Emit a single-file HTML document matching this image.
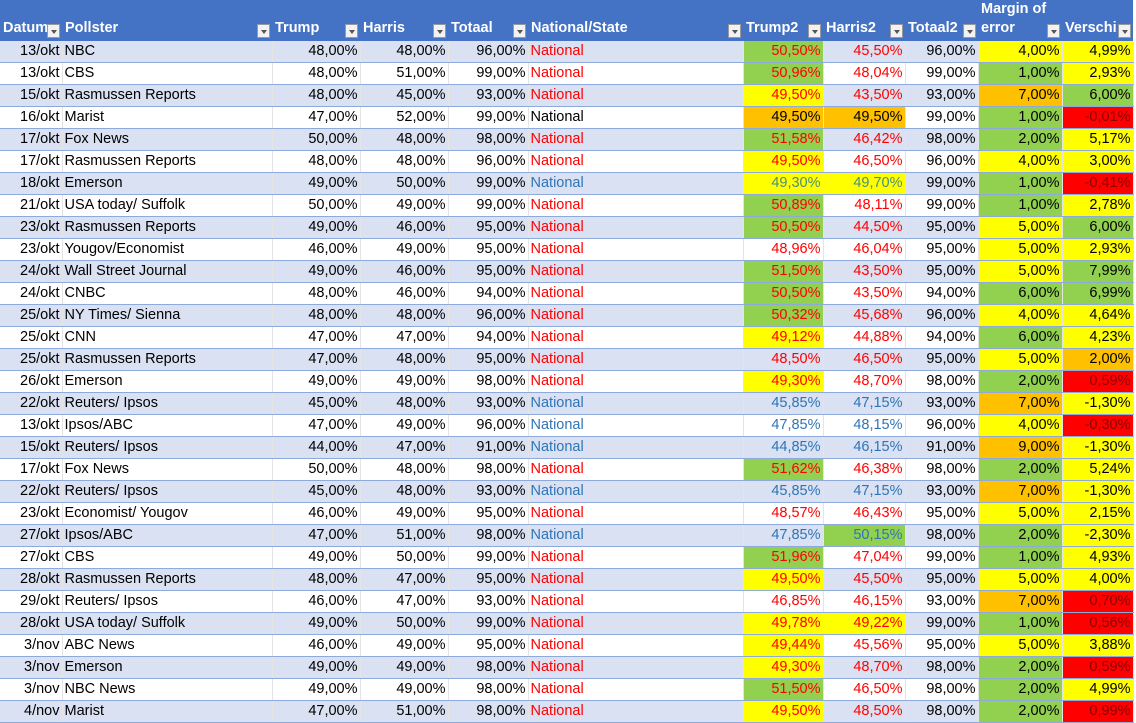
<!DOCTYPE html>
<html><head><meta charset="utf-8">
<style>
body{margin:0;width:1136px;height:723px;overflow:hidden;background:#fff;font-family:"Liberation Sans",Calibri,sans-serif;font-size:14.5px}
table{border-collapse:collapse;table-layout:fixed;position:absolute;left:0;top:0;width:1133px}
th{background:#4472C4;color:#fff;font-weight:bold;text-align:left;height:40px;padding:0 0 0 3px;vertical-align:bottom;position:relative;white-space:nowrap;overflow:hidden}
th span.t{display:block;padding-bottom:3px;line-height:19px}
th .dd{position:absolute;right:2px;bottom:3px;width:13px;height:14px;background:#f2f2f2;border:1px solid #999;box-sizing:border-box}
th .dd:after{content:"";position:absolute;left:3px;top:5px;border-left:3px solid transparent;border-right:3px solid transparent;border-top:4px solid #555}
td{height:21px;padding:0 2px;border-bottom:1px solid #8EA9DB;white-space:nowrap;overflow:hidden;line-height:21px;border-right:1px solid #e4e4e4}
tr.odd td{background:#D9E1F2}
td.n{text-align:right}
.r{color:#FF0000}.b{color:#2E75B6}.k{color:#000}.g{color:#4a8f7a}.dr{color:#8b0000}
td.fg{background:#92D050!important}td.fy{background:#FFFF00!important}td.fo{background:#FFC000!important}td.fr{background:#FF0000!important}
</style></head><body>
<table>
<colgroup><col style="width:62px"><col style="width:210px"><col style="width:88px"><col style="width:88px"><col style="width:80px"><col style="width:215px"><col style="width:80px"><col style="width:82px"><col style="width:73px"><col style="width:84px"><col style="width:71px"></colgroup>
<thead><tr id="hdr"></tr></thead>
<tbody id="body"></tbody>
</table>
<script>
const headers=["Datum","Pollster","Trump","Harris","Totaal","National/State","Trump2","Harris2","Totaal2","Margin of<br>error","Verschi"];
const dates=["13/okt","13/okt","15/okt","16/okt","17/okt","17/okt","18/okt","21/okt","23/okt","23/okt","24/okt","24/okt","25/okt","25/okt","25/okt","26/okt","22/okt","13/okt","15/okt","17/okt","22/okt","23/okt","27/okt","27/okt","28/okt","29/okt","28/okt","3/nov","3/nov","3/nov","4/nov"];
const pollsters=["NBC","CBS","Rasmussen Reports","Marist","Fox News","Rasmussen Reports","Emerson","USA today/ Suffolk","Rasmussen Reports","Yougov/Economist","Wall Street Journal","CNBC","NY Times/ Sienna","CNN","Rasmussen Reports","Emerson","Reuters/ Ipsos","Ipsos/ABC","Reuters/ Ipsos","Fox News","Reuters/ Ipsos","Economist/ Yougov","Ipsos/ABC","CBS","Rasmussen Reports","Reuters/ Ipsos","USA today/ Suffolk","ABC News","Emerson","NBC News","Marist"];
const trump=["48,00","48,00","48,00","47,00","50,00","48,00","49,00","50,00","49,00","46,00","49,00","48,00","48,00","47,00","47,00","49,00","45,00","47,00","44,00","50,00","45,00","46,00","47,00","49,00","48,00","46,00","49,00","46,00","49,00","49,00","47,00"];
const harris=["48,00","51,00","45,00","52,00","48,00","48,00","50,00","49,00","46,00","49,00","46,00","46,00","48,00","47,00","48,00","49,00","48,00","49,00","47,00","48,00","48,00","49,00","51,00","50,00","47,00","47,00","50,00","49,00","49,00","49,00","51,00"];
const totaal=["96,00","99,00","93,00","99,00","98,00","96,00","99,00","99,00","95,00","95,00","95,00","94,00","96,00","94,00","95,00","98,00","93,00","96,00","91,00","98,00","93,00","95,00","98,00","99,00","95,00","93,00","99,00","95,00","98,00","98,00","98,00"];
const colorCls=["r","r","r","k","r","r","b","r","r","r","r","r","r","r","r","r","b","b","b","r","b","r","b","r","r","r","r","r","r","r","r"];
const trump2=["50,50","50,96","49,50","49,50","51,58","49,50","49,30","50,89","50,50","48,96","51,50","50,50","50,32","49,12","48,50","49,30","45,85","47,85","44,85","51,62","45,85","48,57","47,85","51,96","49,50","46,85","49,78","49,44","49,30","51,50","49,50"];
const harris2=["45,50","48,04","43,50","49,50","46,42","46,50","49,70","48,11","44,50","46,04","43,50","43,50","45,68","44,88","46,50","48,70","47,15","48,15","46,15","46,38","47,15","46,43","50,15","47,04","45,50","46,15","49,22","45,56","48,70","46,50","48,50"];
const margin=["4,00","1,00","7,00","1,00","2,00","4,00","1,00","1,00","5,00","5,00","5,00","6,00","4,00","6,00","5,00","2,00","7,00","4,00","9,00","2,00","7,00","5,00","2,00","1,00","5,00","7,00","1,00","5,00","2,00","2,00","2,00"];
const verschil=["4,99","2,93","6,00","-0,01","5,17","3,00","-0,41","2,78","6,00","2,93","7,99","6,99","4,64","4,23","2,00","0,59","-1,30","-0,30","-1,30","5,24","-1,30","2,15","-2,30","4,93","4,00","0,70","0,56","3,88","0,59","4,99","0,99"];
const t2Fill="gggogyygg-ggggy-y---g----gy-yygy".split("").slice(0,31);
const t2F=["g","g","y","o","g","y","y","g","g","","g","g","g","y","","y","","","","g","","","","g","y","","y","y","y","g","y"];
const h2F=["","","","o","","","y","","","","","","","","","","","","","","","","g","","","","y","","","",""];
const mF=["y","g","o","g","g","y","g","g","y","y","y","g","y","g","y","g","o","y","o","g","o","y","g","g","y","o","g","y","g","g","g"];
const vF=["y","y","g","r","y","y","r","y","g","y","g","g","y","y","o","r","y","r","y","y","y","y","y","y","y","r","r","y","r","y","r"];
const hdr=document.getElementById('hdr');
headers.forEach((h,i)=>{const th=document.createElement('th');


th.innerHTML='<span class="t">'+h+'</span>';
const dd=document.createElement('span');dd.className='dd';


th.appendChild(dd);hdr.appendChild(th);});
const body=document.getElementById('body');
const fm={g:'fg',y:'fy',o:'fo',r:'fr'};
dates.forEach((d,i)=>{const tr=document.createElement('tr');


if(i%2===0)tr.className='odd';
const c=colorCls[i];
let t2c=c==='b'&&t2F[i]==='y'?'g':c, h2c=c==='b'&&h2F[i]==='y'?'g':c;
const cells=[[d,'n',''],[pollsters[i],'',''],[trump[i]+'%','n',''],[harris[i]+'%','n',''],[totaal[i]+'%','n',''],['National',c,''],
[trump2[i]+'%','n '+t2c,t2F[i]],[harris2[i]+'%','n '+h2c,h2F[i]],[totaal[i]+'%','n',''],[margin[i]+'%','n',mF[i]],[verschil[i]+'%','n'+(vF[i]==='r'?' dr':''),vF[i]]];
cells.forEach(cl=>{const td=document.createElement('td');


td.className=cl[1]+(cl[2]?' '+fm[cl[2]]:'');td.textContent=cl[0];tr.appendChild(td);});
body.appendChild(tr);});
</script>
</body></html>
